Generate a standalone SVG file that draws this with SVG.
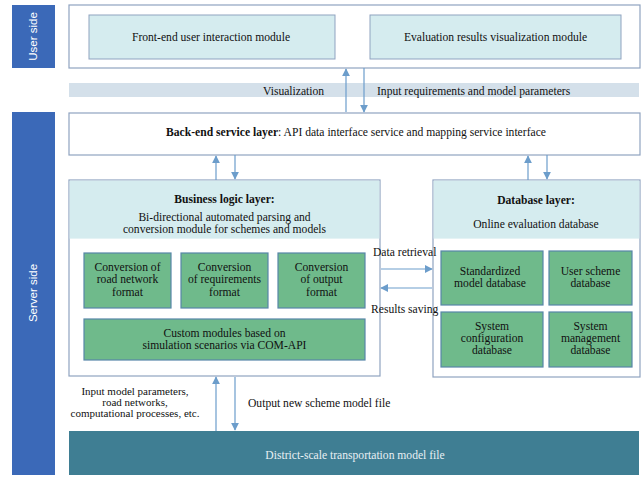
<svg xmlns="http://www.w3.org/2000/svg" width="643" height="479" viewBox="0 0 643 479">
<defs>
<marker id="ah" viewBox="0 0 10 10" refX="9" refY="5" markerWidth="8" markerHeight="8" markerUnits="userSpaceOnUse" orient="auto"><path d="M0,0 L10,5 L0,10 z" fill="#6c9dcb"/></marker>
<style>
.side{fill:#3b69b8}
.sidet{font-family:"Liberation Sans",Arial,sans-serif;font-size:11.5px;fill:#ffffff}
.frame{fill:#ffffff;stroke:#8fa3c0;stroke-width:1.2}
.cyan{fill:#d5ecef;stroke:#8fa3c0;stroke-width:1}
.band{fill:#d4e0ea}
.green{fill:#6fba8b;stroke:#5786a8;stroke-width:1.2}
.t{font-family:"Liberation Serif","Times New Roman",serif;font-size:11.6px;fill:#111111;text-anchor:middle}
.tl{font-family:"Liberation Serif","Times New Roman",serif;font-size:11.6px;fill:#111111}
.s{font-size:11px}
.b{font-weight:bold}
.c{stroke:#6c9dcb;stroke-width:1.2;fill:none;marker-end:url(#ah)}
</style>
</defs>
<rect width="643" height="479" fill="#ffffff"/>

<g id="user-side">
<rect class="side" x="12" y="5" width="43" height="63"/>
<text class="sidet" transform="translate(37,36.5) rotate(-90)" text-anchor="middle">User side</text>
</g>
<g id="server-side">
<rect class="side" x="12" y="112" width="43" height="363"/>
<text class="sidet" transform="translate(37,293) rotate(-90)" text-anchor="middle">Server side</text>
</g>

<g id="user-frame">
<rect class="frame" x="69" y="5" width="571" height="63"/>
</g>
<g id="frontend">
<rect class="cyan" x="89" y="15" width="246" height="44"/>
<text class="t" x="211" y="41">Front-end user interaction module</text>
</g>
<g id="evaluation">
<rect class="cyan" x="370" y="15" width="251" height="44"/>
<text class="t" x="495.5" y="41">Evaluation results visualization module</text>
</g>

<g id="band">
<rect class="band" x="69" y="83" width="570" height="14"/>
<text class="tl" x="263" y="94.5">Visualization</text>
<text class="tl" x="377" y="94.5">Input requirements and model parameters</text>
</g>

<g id="backend">
<rect class="frame" x="69" y="113" width="571" height="42"/>
<text class="t" x="356" y="136"><tspan class="b">Back-end service layer</tspan>: API data interface service and mapping service interface</text>
</g>

<g id="business">
<rect class="frame" x="69" y="180" width="311" height="196"/>
<rect x="69.6" y="180.6" width="309.8" height="58" fill="#d5ecef"/>
<text class="t b" x="224.5" y="203">Business logic layer:</text>
<text class="t" x="224.5" y="221">Bi-directional automated parsing and</text>
<text class="t" x="224.5" y="233">conversion module for schemes and models</text>
</g>
<g id="conv-road">
<rect class="green" x="84" y="253" width="87" height="55"/>
<text class="t" x="127.5" y="271">Conversion of</text>
<text class="t" x="127.5" y="283">road network</text>
<text class="t" x="127.5" y="296">format</text>
</g>
<g id="conv-req">
<rect class="green" x="181" y="253" width="87" height="55"/>
<text class="t" x="224.5" y="271">Conversion</text>
<text class="t" x="224.5" y="283">of requirements</text>
<text class="t" x="224.5" y="296">format</text>
</g>
<g id="conv-out">
<rect class="green" x="278" y="253" width="87" height="55"/>
<text class="t" x="321.5" y="271">Conversion</text>
<text class="t" x="321.5" y="283">of output</text>
<text class="t" x="321.5" y="296">format</text>
</g>
<g id="custom">
<rect class="green" x="84" y="319" width="281" height="41"/>
<text class="t" x="224.5" y="337">Custom modules based on</text>
<text class="t" x="224.5" y="349">simulation scenarios via COM-API</text>
</g>

<g id="database">
<rect class="frame" x="433" y="180" width="207" height="197"/>
<rect x="433.6" y="180.6" width="205.8" height="58" fill="#d5ecef"/>
<text class="t b" x="536" y="204">Database layer:</text>
<text class="t" x="536" y="228">Online evaluation database</text>
</g>
<g id="db-standard">
<rect class="green" x="441" y="251" width="102" height="54"/>
<text class="t" x="490" y="275">Standardized</text>
<text class="t" x="490" y="287">model database</text>
</g>
<g id="db-user">
<rect class="green" x="549" y="251" width="83" height="54"/>
<text class="t" x="590.5" y="275">User scheme</text>
<text class="t" x="590.5" y="287">database</text>
</g>
<g id="db-config">
<rect class="green" x="441" y="312" width="102" height="55"/>
<text class="t" x="492" y="330">System</text>
<text class="t" x="492" y="342">configuration</text>
<text class="t" x="492" y="354">database</text>
</g>
<g id="db-mgmt">
<rect class="green" x="549" y="312" width="83" height="55"/>
<text class="t" x="590.5" y="330">System</text>
<text class="t" x="590.5" y="342">management</text>
<text class="t" x="590.5" y="354">database</text>
</g>

<g id="district">
<rect x="69" y="431" width="570" height="44" fill="#3f7e93"/>
<text class="t" x="355" y="459" style="fill:#e8f0f4">District-scale transportation model file</text>
</g>

<g id="connectors">
<line class="c" x1="346" y1="112" x2="346" y2="69"/>
<line class="c" x1="364" y1="68" x2="364" y2="112"/>
<line class="c" x1="216" y1="180" x2="216" y2="156"/>
<line class="c" x1="235" y1="155" x2="235" y2="179"/>
<line class="c" x1="528" y1="180" x2="528" y2="156"/>
<line class="c" x1="547" y1="155" x2="547" y2="179"/>
<line class="c" x1="381" y1="269" x2="432" y2="269"/>
<line class="c" x1="432" y1="288" x2="381" y2="288"/>
<line class="c" x1="216" y1="431" x2="216" y2="377"/>
<line class="c" x1="235" y1="377" x2="235" y2="430"/>
<text class="tl" x="373" y="256">Data retrieval</text>
<text class="tl" x="371" y="313">Results saving</text>
<text class="t s" x="135" y="395">Input model parameters,</text>
<text class="t s" x="135" y="406">road networks,</text>
<text class="t s" x="135" y="417">computational processes, etc.</text>
<text class="tl" x="248" y="407">Output new scheme model file</text>
</g>
</svg>
